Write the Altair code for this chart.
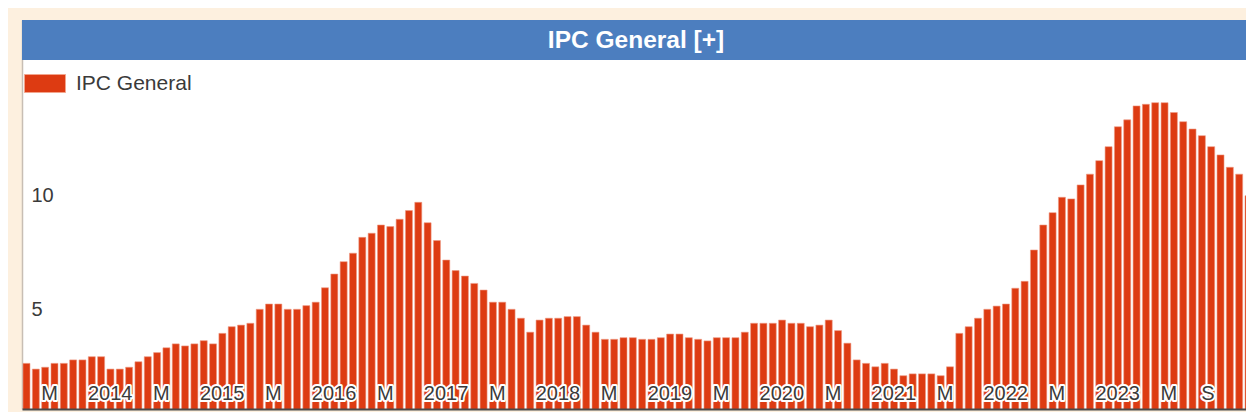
import altair as alt
import pandas as pd

# ---------------- data ----------------
years = list(range(2013, 2024))
months = [f"{y}-{m:02d}" for y in years for m in range(1, 13)]

ipc_general = [
    2.67, 2.42, 2.50, 2.67, 2.67, 2.82, 2.82, 2.96, 2.96, 2.42, 2.42, 2.50,   # 2013
    2.74, 2.96, 3.14, 3.35, 3.52, 3.43, 3.52, 3.66, 3.52, 3.98, 4.27, 4.34,   # 2014
    4.42, 5.03, 5.26, 5.26, 5.03, 5.03, 5.19, 5.34, 5.97, 6.57, 7.11, 7.48,   # 2015
    8.17, 8.35, 8.71, 8.64, 8.96, 9.34, 9.70, 8.81, 8.03, 7.18, 6.72, 6.48,   # 2016
    6.16, 5.87, 5.34, 5.34, 5.03, 4.64, 4.03, 4.56, 4.64, 4.64, 4.71, 4.71,   # 2017
    4.34, 4.03, 3.72, 3.72, 3.79, 3.79, 3.72, 3.72, 3.79, 3.95, 3.95, 3.79,   # 2018
    3.72, 3.65, 3.79, 3.79, 3.79, 4.03, 4.42, 4.42, 4.42, 4.56, 4.42, 4.42,   # 2019
    4.27, 4.34, 4.56, 4.10, 3.55, 2.82, 2.67, 2.52, 2.67, 2.42, 2.13, 2.21,   # 2020
    2.21, 2.21, 2.13, 2.52, 3.98, 4.27, 4.64, 5.03, 5.17, 5.26, 5.95, 6.25,   # 2021
    7.62, 8.71, 9.25, 9.92, 9.85, 10.46, 10.93, 11.52, 12.13, 13.00, 13.30, 13.91,  # 2022
    13.98, 14.05, 14.05, 13.62, 13.22, 12.90, 12.61, 12.13, 11.77, 11.23, 10.93, 9.99,  # 2023
]

tick_months = ["2013-05", "2014-01", "2014-05", "2015-01", "2015-05", "2016-01", "2016-05",
               "2017-01", "2017-05", "2018-01", "2018-05", "2019-01", "2019-05", "2020-01",
               "2020-05", "2021-01", "2021-05", "2022-01", "2022-05", "2023-01", "2023-05",
               "2023-09"]
tick_texts = ["M", "2014", "M", "2015", "M", "2016", "M", "2017", "M", "2018", "M", "2019",
              "M", "2020", "M", "2021", "M", "2022", "M", "2023", "M", "S"]

y_ticks = [5, 10]
series_name = "IPC General"
chart_title = "IPC General [+]"

# ---------------- styling ----------------
W, H = 1224, 389          # visible plot box (fits inside the page without overflow)
X_RANGE = 1231            # band range continues past the visible right edge
FONT = "Liberation Sans"
BAR_RED = "#DD3B12"
BLUE = "#4C7EBF"
CREAM = "#FDF0DF"
TXT = "#3a3a3a"

df = pd.DataFrame({"mes": months, "valor": ipc_general, "serie": series_name})
lab = pd.DataFrame({"mes": tick_months, "texto": tick_texts})
title_df = pd.DataFrame({"t": [chart_title]})

xscale = alt.Scale(domain=months, range=[0, X_RANGE], paddingInner=0.25, paddingOuter=0.107)
yscale = alt.Scale(domain=[0.677, 17.66], zero=False, nice=False)

bars = alt.Chart(df).mark_bar(stroke="#EE9B84", strokeWidth=0.6, clip=True).encode(
    x=alt.X("mes:O", scale=xscale, sort=months,
            axis=alt.Axis(title=None, labels=False, ticks=False, domain=True,
                          domainColor="#4a4a4a", domainWidth=2, zindex=1)),
    y=alt.Y("valor:Q", scale=yscale,
            axis=alt.Axis(title=None, values=y_ticks, orient="left", grid=False,
                          ticks=False, domain=True, domainColor="#C8BEB4", domainWidth=1.5,
                          labelAlign="left", labelPadding=-9,
                          labelFontSize=20, labelColor=TXT, labelFont=FONT)),
    color=alt.Color("serie:N", scale=alt.Scale(range=[BAR_RED]),
                    legend=alt.Legend(orient="none", legendX=2, legendY=42.5, title=None,
                                      symbolType="M-1,-0.439L1,-0.439L1,0.439L-1,0.439Z",
                                      symbolSize=1681, symbolStrokeColor="#F2A48C",
                                      symbolStrokeWidth=1, symbolOpacity=1,
                                      labelFontSize=21, labelColor=TXT, labelFont=FONT,
                                      labelOffset=10, padding=0)),
)

title_bar = alt.Chart(title_df).mark_rect(color=BLUE).encode(
    x=alt.value(0), x2=alt.value(W), y=alt.value(0), y2=alt.value(40)
)
title_txt = alt.Chart(title_df).mark_text(
    color="white", fontSize=24.5, fontWeight="bold", font=FONT, align="center", baseline="middle"
).encode(x=alt.value(614), y=alt.value(21), text="t:N")

halo = alt.Chart(lab).mark_text(
    fontSize=20, font=FONT, align="right", baseline="alphabetic", dx=-2.5,
    color="white", stroke="white", strokeWidth=4, strokeJoin="round"
).encode(x=alt.X("mes:O", bandPosition=0, scale=xscale), y=alt.value(380), text="texto:N")

labels = alt.Chart(lab).mark_text(
    fontSize=20, font=FONT, align="right", baseline="alphabetic", dx=-2.5, color=TXT
).encode(x=alt.X("mes:O", bandPosition=0, scale=xscale), y=alt.value(380), text="texto:N")

chart = alt.layer(bars, title_bar, title_txt, halo, labels).properties(
    width=W, height=H,
    padding={"left": 14, "top": 12, "right": 0, "bottom": 3},
    autosize=alt.AutoSizeParams(type="none"),
    background=CREAM,
).configure_view(fill="white", strokeWidth=0)

chart.save("out.html", embed_options={"renderer": "svg", "actions": False})
